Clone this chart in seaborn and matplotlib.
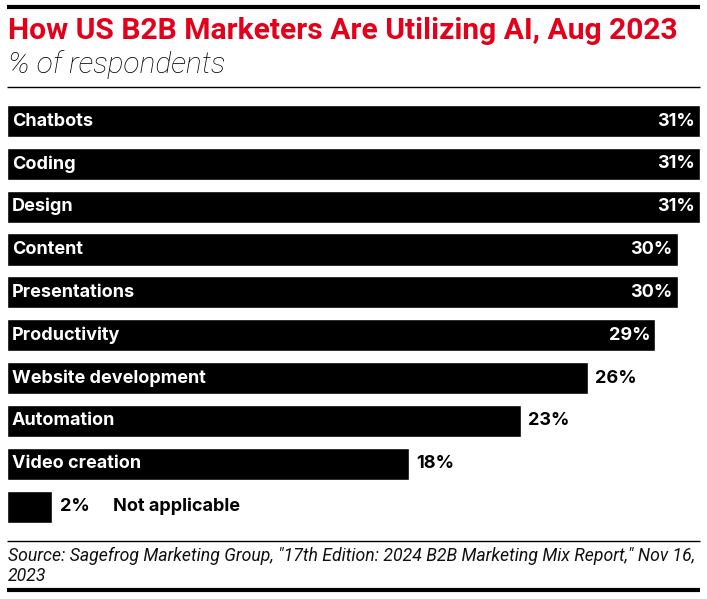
import matplotlib
matplotlib.use("Agg")
import matplotlib.pyplot as plt
import matplotlib.transforms as mtransforms
from matplotlib.lines import Line2D
import seaborn as sns
import pandas as pd

categories = ["Chatbots", "Coding", "Design", "Content", "Presentations",
              "Productivity", "Website development", "Automation",
              "Video creation", "Not applicable"]
values = [31, 31, 31, 30, 30, 29, 26, 23, 18, 2]
value_labels = ["31%", "31%", "31%", "30%", "30%", "29%", "26%", "23%", "18%", "2%"]

title = "How US B2B Marketers Are Utilizing AI, Aug 2023"
subtitle = "% of respondents"
source_lines = ["Source: Sagefrog Marketing Group, \"17th Edition: 2024 B2B Marketing Mix Report,\" Nov 16,",
                "2023"]

sns.set_theme(style="white")
plt.rcParams['font.family'] = ['Inter', 'DejaVu Sans']

W, H = 707, 599
fig = plt.figure(figsize=(W / 100, H / 100), dpi=100)
fig.patch.set_facecolor("white")


def fx(p):
    return p / W


def fy(p):
    return 1 - p / H


ax = fig.add_axes([fx(7), fy(528), fx(700) - fx(7), fy(99.6) - fy(528)])
df = pd.DataFrame({"category": categories, "value": values})
sns.barplot(data=df, x="value", y="category", orient="h", color="black",
            saturation=1, width=0.75, ax=ax)
ax.set_xlim(0, 31)
ax.set_ylim(9.5, -0.5)
ax.axis("off")

lab_fs = 13
for i, (c, v, vl) in enumerate(zip(categories, values, value_labels)):
    if v >= 5:
        t = mtransforms.offset_copy(ax.transData, fig=fig, x=5, y=0, units="dots")
        ax.text(0, i, c, color="white", fontsize=lab_fs, fontweight="bold",
                va="center", ha="left", transform=t)
        if v >= 29:
            t2 = mtransforms.offset_copy(ax.transData, fig=fig, x=-5, y=0, units="dots")
            ax.text(v, i, vl, color="white", fontsize=lab_fs, fontweight="bold",
                    va="center", ha="right", transform=t2)
        else:
            t2 = mtransforms.offset_copy(ax.transData, fig=fig, x=7, y=0, units="dots")
            ax.text(v, i, vl, color="black", fontsize=lab_fs, fontweight="bold",
                    va="center", ha="left", transform=t2)
    else:
        t2 = mtransforms.offset_copy(ax.transData, fig=fig, x=8, y=0, units="dots")
        ax.text(v, i, vl, color="black", fontsize=lab_fs, fontweight="bold",
                va="center", ha="left", transform=t2)
        t3 = mtransforms.offset_copy(ax.transData, fig=fig, x=61, y=0, units="dots")
        ax.text(v, i, c, color="black", fontsize=lab_fs, fontweight="bold",
                va="center", ha="left", transform=t3)

# Title and subtitle
fig.text(fx(8), fy(39), title, color="#e3001b", fontsize=21.6, fontweight="bold",
         family=["Roboto", "DejaVu Sans"], va="baseline", ha="left")
fig.text(fx(8), fy(73), subtitle, color="black", fontsize=21.5, fontstyle="italic",
         fontweight="light", family=["Roboto", "DejaVu Sans"], va="baseline", ha="left")

# Rules
fig.add_artist(Line2D([fx(7), fx(700)], [fy(7), fy(7)], color="black", lw=3.0,
                      transform=fig.transFigure, solid_capstyle="butt"))
fig.add_artist(Line2D([fx(7), fx(700)], [fy(87), fy(87)], color="black", lw=1.0,
                      transform=fig.transFigure, solid_capstyle="butt"))
fig.add_artist(Line2D([fx(7), fx(700)], [fy(541), fy(541)], color="black", lw=1.0,
                      transform=fig.transFigure, solid_capstyle="butt"))
fig.add_artist(Line2D([fx(7), fx(700)], [fy(590), fy(590)], color="black", lw=3.0,
                      transform=fig.transFigure, solid_capstyle="butt"))

for k, line in enumerate(source_lines):
    fig.text(fx(8), fy(561 + 20 * k), line, color="#111111", fontsize=12.7,
             fontstyle="italic", family=["Roboto", "DejaVu Sans"],
             va="baseline", ha="left")

fig.savefig("out.png", dpi=100, facecolor="white")
